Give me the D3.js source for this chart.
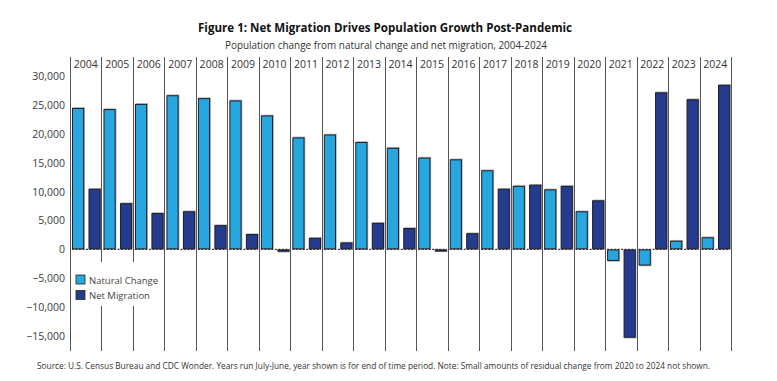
<!DOCTYPE html>
<html><head><meta charset="utf-8">
<script src="https://cdn.jsdelivr.net/npm/d3@7"></script>
<style>
html,body{margin:0;padding:0;background:#fff;}
svg{display:block;}
text{font-family:"Open Sans","Liberation Sans",sans-serif;fill:#333;}
</style></head>
<body>
<script>
const years = ["2004","2005","2006","2007","2008","2009","2010","2011","2012","2013","2014","2015","2016","2017","2018","2019","2020","2021","2022","2023","2024"];
const naturalChange = [24500,24300,25200,26700,26200,25800,23200,19400,19900,18600,17600,15900,15600,13700,11000,10400,6600,-2000,-2800,1500,2100];
const netMigration = [10500,8000,6300,6600,4200,2650,-400,2000,1200,4600,3700,-150,2800,10500,11200,11000,8500,-15300,27200,26000,28500];
const seriesNames = ["Natural Change","Net Migration"];
const yTicks = [30000,25000,20000,15000,10000,5000,0,-5000,-10000,-15000];
const titleText = "Figure 1: Net Migration Drives Population Growth Post-Pandemic";
const subtitleText = "Population change from natural change and net migration, 2004-2024";
const sourceText = "Source: U.S. Census Bureau and CDC Wonder. Years run July-June, year shown is for end of time period. Note: Small amounts of residual change from 2020 to 2024 not shown.";

const W = 777, H = 381;
const colors = {"Natural Change":"#27a7df","Net Migration":"#253b8e"};

const svg = d3.select("body").append("svg").attr("width",W).attr("height",H);

const x = d3.scaleBand().domain(years).range([70,731]).paddingInner(0).paddingOuter(0);
const xi = d3.scaleBand().domain(seriesNames).range([2, x.bandwidth()-0.8]).paddingInner(0.26).paddingOuter(0);
const y = d3.scaleLinear().domain([-17600, 33150]).range([351, 58]);

// title
svg.append("text").attr("x",385).attr("y",32).attr("text-anchor","middle")
  .attr("font-size",13).attr("font-weight","bold")
  .style("fill","#111")
  .attr("textLength",374).attr("lengthAdjust","spacingAndGlyphs").text(titleText);
svg.append("text").attr("x",386).attr("y",49).attr("text-anchor","middle")
  .attr("font-size",11).attr("textLength",322).attr("lengthAdjust","spacingAndGlyphs").text(subtitleText);

// y axis labels
const yAxis = d3.axisLeft(y).tickValues(yTicks).tickSize(0).tickPadding(0).tickFormat(d3.format(","));
const ga = svg.append("g").attr("transform","translate(65,0)").call(yAxis);
ga.select(".domain").remove();
ga.selectAll("text").attr("font-size",10.5).style("font-family",'"Open Sans","Liberation Sans",sans-serif').style("fill","#3a3a3a");

// panels
const data = years.map((yr,i)=>({year:yr, values:[
  {key:"Natural Change", v:naturalChange[i]},
  {key:"Net Migration", v:netMigration[i]}]}));

const panels = svg.append("g").selectAll("g").data(data).join("g")
  .attr("transform", d=>`translate(${x(d.year)},0)`);

// year labels
panels.append("text").attr("x", x.bandwidth()/2).attr("y",68).attr("text-anchor","middle")
  .attr("font-size",10.5).text(d=>d.year);

// shadows
panels.selectAll("rect.sh").data(d=>d.values).join("rect").attr("class","sh")
  .attr("x", d=>xi(d.key)+0.8)
  .attr("y", d=>Math.min(y(d.v),y(0))+ (d.v>=0?-0.8:0.8))
  .attr("width", xi.bandwidth())
  .attr("height", d=>Math.max(1.5,Math.abs(y(d.v)-y(0))))
  .attr("fill","#b5b5b5");
// bars
panels.selectAll("rect.bar").data(d=>d.values).join("rect").attr("class","bar")
  .attr("x", d=>xi(d.key)+0.5)
  .attr("y", d=>Math.min(y(d.v),y(0))+0.5)
  .attr("width", xi.bandwidth()-1)
  .attr("height", d=>Math.max(1.2,Math.abs(y(d.v)-y(0))-1))
  .attr("fill", d=>colors[d.key]).attr("stroke","#1d1d2b").attr("stroke-width",1);

// zero line dashed
panels.append("line").attr("x1",xi.range()[0]).attr("x2",xi.range()[1])
  .attr("y1",y(0)).attr("y2",y(0)).attr("stroke","#333").attr("stroke-width",1.2)
  .attr("stroke-dasharray","2,1.5");

// separators
const seps = years.map(yr=>x(yr)).concat([x.range()[1]]);
svg.append("g").selectAll("line").data(seps).join("line")
  .attr("x1",d=>Math.round(d)+0.5).attr("x2",d=>Math.round(d)+0.5)
  .attr("y1",57).attr("y2",351).attr("stroke","#555").attr("stroke-width",1);
// legend background covering separators
svg.append("rect").attr("x",71).attr("y",262).attr("width",90).attr("height",44).attr("fill","#fff");

const lg = svg.append("g").selectAll("g").data(seriesNames).join("g")
  .attr("transform",(d,i)=>`translate(76,${275+i*15.5})`);
lg.append("rect").attr("width",9).attr("height",9).attr("fill",d=>colors[d]).attr("stroke","#222").attr("stroke-width",0.8);
lg.append("text").attr("x",13).attr("y",8.5).attr("font-size",9.5).style("fill","#444").text(d=>d);

// source
svg.append("text").attr("x",37).attr("y",369).attr("font-size",9)
  .attr("textLength",673).attr("lengthAdjust","spacingAndGlyphs").text(sourceText);
</script>
</body></html>
